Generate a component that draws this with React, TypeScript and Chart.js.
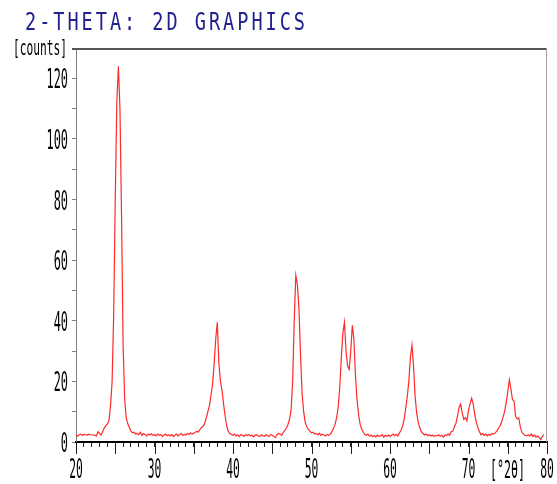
import React, { useEffect, useRef } from "react";
import { Chart, registerables } from "chart.js";

Chart.register(...registerables);

const TITLE = "2-THETA: 2D GRAPHICS";
const Y_UNIT = "[counts]";
const X_UNIT = "[°2θ]";

const ANGLE_START = 20;
const ANGLE_STEP = 0.2;

// counts, one value every 0.2 °2θ starting at 20
const COUNTS: number[] = [
  2.3, 2.0, 2.4, 2.6, 2.2, 2.5, 2.4, 2.3, 2.6, 2.4,
  2.4, 2.3, 2.2, 2.0, 3.4, 2.8, 2.3, 3.5, 4.6, 5.4,
  6.0, 7.0, 12, 20, 42, 80, 112, 124, 110, 75,
  32, 14, 8, 6, 4.8, 3.6, 3.0, 3.2, 2.6, 2.8,
  2.4, 3.2, 2.2, 2.8, 2.5, 2.0, 2.6, 2.3, 2.7, 2.2,
  2.4, 2.0, 2.6, 2.2, 2.5, 1.8, 2.3, 2.6, 2.1, 2.4,
  2.0, 2.5, 1.8, 2.2, 2.6, 2.0, 2.4, 2.8, 2.2, 2.5,
  2.3, 2.8, 2.5, 3.0, 2.6, 2.9, 3.2, 3.5, 3.3, 4.2,
  4.8, 5.2, 6.2, 8.0, 10.0, 12.0, 15.5, 19.0, 26.0, 34.0,
  39.5, 26, 20, 17, 12.5, 8.5, 5.2, 3.5, 2.8, 2.5,
  2.2, 2.6, 2.0, 2.4, 1.8, 2.5, 2.2, 1.9, 2.4, 2.1,
  2.5, 2.0, 2.3, 1.7, 2.2, 2.4, 2.0, 1.8, 2.3, 2.1,
  1.9, 2.4, 2.1, 1.8, 2.5, 2.2, 1.8, 1.5, 2.4, 2.8,
  2.6, 2.2, 3.2, 3.8, 4.6, 5.8, 7.5, 10.5, 20, 40,
  55, 52, 44, 29, 16, 10, 6.5, 5.0, 4.2, 3.6,
  3.0, 3.2, 2.6, 2.8, 2.4, 2.9, 2.2, 2.6, 2.3, 2.0,
  2.5, 2.2, 2.6, 3.4, 4.5, 5.8, 8.0, 11.5, 18, 28,
  36, 39.5, 30, 25, 24, 30, 38.5, 34, 22, 14,
  9.0, 5.8, 4.2, 3.2, 2.5, 2.2, 2.6, 1.9, 2.2, 1.8,
  2.1, 1.7, 2.3, 1.9, 2.0, 2.4, 1.6, 2.2, 1.9, 2.3,
  1.8, 2.2, 2.6, 2.1, 2.5, 2.0, 3.0, 3.8, 5.2, 7.5,
  11, 15, 20, 28, 32, 25, 15, 9.5, 6.5, 4.6,
  3.4, 2.8, 2.3, 2.6, 2.1, 2.4, 2.0, 2.3, 1.8, 2.2,
  2.0, 2.4, 1.9, 2.2, 1.6, 2.3, 2.1, 2.6, 2.2, 3.4,
  3.6, 5.0, 6.2, 8.5, 11.5, 12.5, 9.5, 7.5, 8.0, 7.0,
  10.5, 12.5, 14.5, 12.5, 9.0, 6.5, 4.8, 3.4, 2.4, 2.8,
  2.2, 2.6, 2.0, 2.5, 2.3, 2.8, 2.6, 3.0, 3.6, 4.4,
  5.2, 6.5, 8.2, 10, 13, 16.5, 20.5, 17.5, 14, 13.5,
  8.5, 7.6, 8.0, 5.0, 3.2, 2.6, 2.2, 2.0, 2.4, 2.0,
  2.6, 1.8, 2.3, 1.6, 2.0, 1.5, 0.8, 1.8, 2.4,
];

const X_MIN = 20;
const X_MAX = 80;
const Y_MIN = 0;
const Y_MAX = 130;
const X_LABEL_TICKS = [20, 30, 40, 50, 60, 70, 80];
const X_MAJOR_TICKS = [20, 25, 30, 35, 40, 45, 50, 55, 60, 65, 70, 75, 80];
const Y_LABEL_TICKS = [0, 20, 40, 60, 80, 100, 120];

const FONT = '"DejaVu Sans Mono", monospace';

function drawNarrowText(
  ctx: CanvasRenderingContext2D,
  text: string,
  x: number,
  baseline: number,
  opts: { size: number; color: string; align: "left" | "right" | "center"; sx?: number; width?: number; spacing?: number }
) {
  ctx.save();
  ctx.font = `${opts.size}px ${FONT}`;
  const ls = opts.spacing || 0;
  (ctx as any).letterSpacing = `${ls}px`;
  const natural = ctx.measureText(text).width - ls;
  const sx = opts.width ? opts.width / natural : opts.sx || 1;
  const w = natural * sx;
  const left = opts.align === "right" ? x - w : opts.align === "center" ? x - w / 2 : x;
  ctx.translate(left, baseline);
  ctx.scale(sx, 1);
  ctx.textAlign = "left";
  ctx.textBaseline = "alphabetic";
  ctx.fillStyle = opts.color;
  ctx.fillText(text, 0, 0);
  ctx.restore();
}

const decorPlugin = {
  id: "decor",
  afterDraw(chart: any) {
    const ctx: CanvasRenderingContext2D = chart.ctx;
    const xs = chart.scales.x;
    const ys = chart.scales.y;
    const area = chart.chartArea;
    ctx.save();
    // frame: top and right
    ctx.strokeStyle = "#555555";
    ctx.lineWidth = 2;
    ctx.beginPath();
    ctx.moveTo(area.left - 4, area.top + 1);
    ctx.lineTo(area.right, area.top + 1);
    ctx.stroke();
    ctx.strokeStyle = "#a0a0a0";
    ctx.lineWidth = 1;
    ctx.beginPath();
    ctx.moveTo(area.right - 0.5, area.top);
    ctx.lineTo(area.right - 0.5, area.bottom);
    ctx.stroke();
    // long x ticks
    ctx.strokeStyle = "#202020";
    ctx.lineWidth = 1;
    for (const v of X_MAJOR_TICKS) {
      const px = Math.round(xs.getPixelForValue(v)) + 0.5;
      ctx.beginPath();
      ctx.moveTo(px, area.bottom);
      ctx.lineTo(px, area.bottom + 12);
      ctx.stroke();
    }
    ctx.restore();

    // tick labels
    for (const v of Y_LABEL_TICKS) {
      const py = ys.getPixelForValue(v);
      drawNarrowText(ctx, String(v), area.left - 8, py + 10, { size: 27, color: "#000", align: "right", sx: 0.44 });
    }
    for (const v of X_LABEL_TICKS) {
      const px = xs.getPixelForValue(v);
      drawNarrowText(ctx, String(v), px, area.bottom + 36, { size: 27, color: "#000", align: "center", sx: 0.42 });
    }
    // unit labels
    drawNarrowText(ctx, X_UNIT, 490, area.bottom + 36, { size: 25, color: "#000", align: "left", width: 35 });
    drawNarrowText(ctx, Y_UNIT, 13, 55, { size: 22, color: "#000", align: "left", width: 54 });
    // title
    drawNarrowText(ctx, TITLE, 25, 30, { size: 25, color: "#22228f", align: "left", width: 280, spacing: 4 });
  },
};

export default function App() {
  const ref = useRef<HTMLCanvasElement | null>(null);
  useEffect(() => {
    const canvas = ref.current;
    if (!canvas) return;
    const points = COUNTS.map((c, i) => ({ x: ANGLE_START + i * ANGLE_STEP, y: c }));
    const chart = new Chart(canvas, {
      type: "line",
      data: {
        datasets: [
          {
            data: points,
            borderColor: "#ff2a2a",
            borderWidth: 1.2,
            pointRadius: 0,
            tension: 0,
            fill: false,
          },
        ],
      },
      options: {
        animation: false,
        responsive: false,
        parsing: false as any,
        layout: { padding: { left: 72, top: 48, right: 10, bottom: 37 } },
        plugins: { legend: { display: false }, tooltip: { enabled: false }, title: { display: false } },
        scales: {
          x: {
            type: "linear",
            min: X_MIN,
            max: X_MAX,
            ticks: { display: false, stepSize: 1 },
            grid: { drawOnChartArea: false, drawTicks: true, tickLength: 5, tickColor: "#202020", color: "#202020" },
            border: { display: true, color: "#000000", width: 2 },
          },
          y: {
            type: "linear",
            min: Y_MIN,
            max: Y_MAX,
            ticks: { display: false, stepSize: 10 },
            grid: { drawOnChartArea: false, drawTicks: true, tickLength: 4, tickColor: "#808080", color: "#808080" },
            border: { display: true, color: "#808080", width: 1 },
          },
        },
      },
      plugins: [decorPlugin],
    });
    return () => chart.destroy();
  }, []);
  return (
    <div style={{ position: "absolute", left: 0, top: 0, width: 557, height: 484, background: "#fff" }}>
      <canvas ref={ref} width={557} height={484} style={{ display: "block" }} />
    </div>
  );
}
